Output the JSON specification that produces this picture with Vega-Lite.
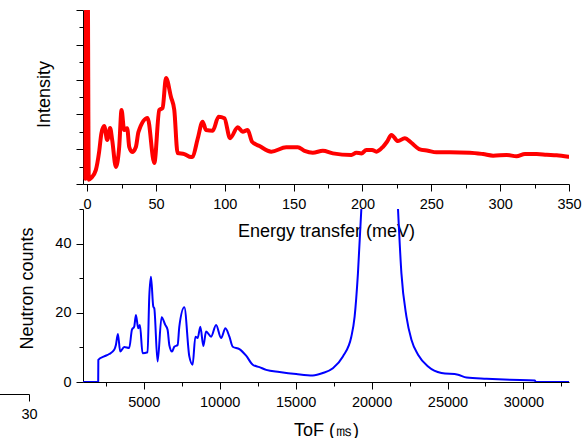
{
  "$schema": "https://vega.github.io/schema/vega-lite/v6.json",
  "width": 486,
  "height": 372,
  "autosize": {"type": "none"},
  "padding": {"left": 83, "top": 10, "right": 16, "bottom": 56},
  "config": {
    "view": {"stroke": null},
    "axis": {
      "grid": false,
      "labelFont": "Liberation Sans",
      "titleFont": "Liberation Sans",
      "labelFontSize": 14.5,
      "titleFontSize": 18,
      "titleFontWeight": "normal",
      "labelColor": "#000000",
      "titleColor": "#000000",
      "domainColor": "#000000",
      "tickColor": "#000000",
      "domainWidth": 1,
      "tickWidth": 1,
      "labelFlush": false,
      "labelOverlap": false
    }
  },
  "datasets": {
    "red": [
      {"E": -1.2, "I": 0.3}, {"E": -0.6, "I": 12}, {"E": 0.4, "I": 12}, {"E": 1.2, "I": 0.25},
      {"E": 3, "I": 0.35}, {"E": 6.3, "I": 0.8}, {"E": 8.7, "I": 1.84}, {"E": 10.4, "I": 2.93},
      {"E": 12.4, "I": 3.33}, {"E": 14.6, "I": 2.53}, {"E": 16.7, "I": 3.22}, {"E": 18.2, "I": 2.53},
      {"E": 20.9, "I": 0.98}, {"E": 23.3, "I": 2.13}, {"E": 25, "I": 4.25}, {"E": 26.9, "I": 3.1},
      {"E": 29.1, "I": 3.2}, {"E": 30.6, "I": 2.13}, {"E": 32.7, "I": 1.84}, {"E": 35.4, "I": 2.13},
      {"E": 37.3, "I": 2.99}, {"E": 43.9, "I": 3.79}, {"E": 48.8, "I": 1.21}, {"E": 52.4, "I": 4.25},
      {"E": 54.8, "I": 4.37}, {"E": 57.3, "I": 6.09}, {"E": 60.9, "I": 5.0}, {"E": 63.3, "I": 4.25},
      {"E": 65.7, "I": 1.78}, {"E": 70.6, "I": 1.72}, {"E": 75.5, "I": 1.55}, {"E": 76.6, "I": 1.57},
      {"E": 80.3, "I": 2.6}, {"E": 83.9, "I": 3.58}, {"E": 86.4, "I": 3.1}, {"E": 91.2, "I": 3.06},
      {"E": 95.5, "I": 3.87}, {"E": 99.7, "I": 3.78}, {"E": 103.8, "I": 2.63}, {"E": 109.4, "I": 3.26},
      {"E": 113, "I": 3.01}, {"E": 116.6, "I": 3.1}, {"E": 119.8, "I": 2.43}, {"E": 125.2, "I": 2.18},
      {"E": 133.7, "I": 1.86}, {"E": 144.6, "I": 2.11}, {"E": 153, "I": 2.11}, {"E": 157.9, "I": 1.91},
      {"E": 163.9, "I": 1.8}, {"E": 171.2, "I": 1.91}, {"E": 178.5, "I": 1.76}, {"E": 191.9, "I": 1.67},
      {"E": 195.5, "I": 1.8}, {"E": 199.2, "I": 1.76}, {"E": 202.8, "I": 1.95}, {"E": 207, "I": 1.95},
      {"E": 210.1, "I": 1.86}, {"E": 214.9, "I": 2.14}, {"E": 217.8, "I": 2.43}, {"E": 221, "I": 2.82},
      {"E": 225.8, "I": 2.47}, {"E": 230.7, "I": 2.63}, {"E": 235.5, "I": 2.37}, {"E": 241.1, "I": 2.01},
      {"E": 247.6, "I": 1.91}, {"E": 253.7, "I": 1.82}, {"E": 263.4, "I": 1.82}, {"E": 278, "I": 1.8},
      {"E": 287.6, "I": 1.72}, {"E": 294.9, "I": 1.63}, {"E": 304.7, "I": 1.67}, {"E": 311.9, "I": 1.59},
      {"E": 318, "I": 1.72}, {"E": 326.5, "I": 1.72}, {"E": 333.8, "I": 1.68}, {"E": 341, "I": 1.65},
      {"E": 349.5, "I": 1.57}
    ],
    "blue": [
      {"t": 1000, "n": 0, "seg": 1}, {"t": 2000, "n": 0, "seg": 1}, {"t": 2010, "n": 6.4, "seg": 1},
      {"t": 2395, "n": 7.4, "seg": 1}, {"t": 2724, "n": 8.1, "seg": 1}, {"t": 3054, "n": 9.3, "seg": 1},
      {"t": 3166, "n": 10.7, "seg": 1}, {"t": 3298, "n": 13.9, "seg": 1}, {"t": 3450, "n": 8.8, "seg": 1},
      {"t": 3714, "n": 10.1, "seg": 1}, {"t": 4044, "n": 9.8, "seg": 1}, {"t": 4222, "n": 15.1, "seg": 1},
      {"t": 4373, "n": 16, "seg": 1}, {"t": 4485, "n": 19.4, "seg": 1}, {"t": 4637, "n": 15.5, "seg": 1},
      {"t": 4749, "n": 16.5, "seg": 1}, {"t": 4921, "n": 8.3, "seg": 1}, {"t": 5251, "n": 8.6, "seg": 1},
      {"t": 5363, "n": 24.6, "seg": 1}, {"t": 5475, "n": 30.4, "seg": 1}, {"t": 5627, "n": 21.8, "seg": 1},
      {"t": 5693, "n": 21.3, "seg": 1}, {"t": 5910, "n": 5.9, "seg": 1}, {"t": 6174, "n": 18.7, "seg": 1},
      {"t": 6418, "n": 16.5, "seg": 1}, {"t": 6570, "n": 15.1, "seg": 1}, {"t": 6682, "n": 10.7, "seg": 1},
      {"t": 6860, "n": 8.8, "seg": 1}, {"t": 7012, "n": 10.2, "seg": 1}, {"t": 7230, "n": 10.7, "seg": 1},
      {"t": 7342, "n": 16, "seg": 1}, {"t": 7671, "n": 21.6, "seg": 1}, {"t": 8001, "n": 7.4, "seg": 1},
      {"t": 8219, "n": 5.0, "seg": 1}, {"t": 8397, "n": 13.1, "seg": 1}, {"t": 8549, "n": 12.7, "seg": 1},
      {"t": 8727, "n": 16, "seg": 1}, {"t": 8925, "n": 10.4, "seg": 1}, {"t": 9103, "n": 14.6, "seg": 1},
      {"t": 9433, "n": 13.1, "seg": 1}, {"t": 9763, "n": 16.5, "seg": 1}, {"t": 10092, "n": 12.7, "seg": 1},
      {"t": 10376, "n": 15.5, "seg": 1}, {"t": 10640, "n": 13.1, "seg": 1}, {"t": 10858, "n": 10.2, "seg": 1},
      {"t": 11299, "n": 9.5, "seg": 1}, {"t": 11741, "n": 7.6, "seg": 1}, {"t": 12177, "n": 5.0, "seg": 1},
      {"t": 12619, "n": 4.3, "seg": 1}, {"t": 13061, "n": 3.5, "seg": 1}, {"t": 13938, "n": 2.9, "seg": 1},
      {"t": 15040, "n": 2.3, "seg": 1}, {"t": 16135, "n": 1.9, "seg": 1}, {"t": 16794, "n": 2.6, "seg": 1},
      {"t": 17454, "n": 4.0, "seg": 1}, {"t": 18113, "n": 7.4, "seg": 1}, {"t": 18667, "n": 13.1, "seg": 1},
      {"t": 18885, "n": 18.9, "seg": 1}, {"t": 19103, "n": 31.4, "seg": 1}, {"t": 19327, "n": 50, "seg": 1},
      {"t": 21741, "n": 50, "seg": 2}, {"t": 21966, "n": 31.4, "seg": 2}, {"t": 22296, "n": 18.9, "seg": 2},
      {"t": 22625, "n": 12.2, "seg": 2}, {"t": 23061, "n": 7.9, "seg": 2}, {"t": 23721, "n": 4.5, "seg": 2},
      {"t": 24604, "n": 2.6, "seg": 2}, {"t": 25699, "n": 2.1, "seg": 2}, {"t": 26253, "n": 1.3, "seg": 2},
      {"t": 27573, "n": 0.95, "seg": 2}, {"t": 29110, "n": 0.66, "seg": 2}, {"t": 30759, "n": 0.46, "seg": 2},
      {"t": 30800, "n": 0, "seg": 2}, {"t": 33000, "n": 0, "seg": 2}
    ],
    "frag": [{"v": 30}]
  },
  "layer": [
    {
      "data": {"name": "red"},
      "mark": {"type": "line", "color": "#ff0000", "strokeWidth": 4, "clip": true, "interpolate": "monotone", "strokeJoin": "round", "strokeCap": "round"},
      "encoding": {
        "x": {
          "field": "E", "type": "quantitative",
          "scale": {"domain": [-3, 350], "nice": false, "zero": false},
          "axis": {
            "orient": "bottom", "offset": -198,
            "values": [0, 25, 50, 75, 100, 125, 150, 175, 200, 225, 250, 275, 300, 325, 350],
            "labelExpr": "datum.value % 50 === 0 ? datum.label : ''",
            "tickSize": {"condition": {"test": "datum.value % 50 === 0", "value": 7}, "value": 4},
            "labelBaseline": "alphabetic", "labelPadding": 17,
            "title": "Energy transfer (meV)", "titleBaseline": "alphabetic", "titleY": 52.5
          }
        },
        "y": {
          "field": "I", "type": "quantitative",
          "scale": {"domain": [0, 10], "range": [174, 0], "nice": false},
          "axis": {
            "orient": "left",
            "values": [0, 1, 2, 3, 4, 5, 6, 7, 8, 9, 10],
            "labels": false,
            "tickSize": {"condition": {"test": "datum.value % 2 === 0", "value": 7}, "value": 4},
            "title": "Intensity", "titleBaseline": "alphabetic", "titleX": -33.5, "titleY": 84
          }
        }
      }
    },
    {
      "data": {"name": "blue"},
      "mark": {"type": "line", "color": "#0000ff", "strokeWidth": 2, "clip": true, "interpolate": "monotone", "strokeJoin": "round"},
      "encoding": {
        "x": {
          "field": "t", "type": "quantitative",
          "scale": {"domain": [1000, 33000], "nice": false, "zero": false},
          "axis": {
            "orient": "bottom",
            "values": [2500, 5000, 7500, 10000, 12500, 15000, 17500, 20000, 22500, 25000, 27500, 30000, 32500],
            "labelExpr": "datum.value % 5000 === 0 ? datum.value : ''",
            "tickSize": {"condition": {"test": "datum.value % 5000 === 0", "value": 7}, "value": 4},
            "labelBaseline": "alphabetic", "labelPadding": 17,
            "title": "ToF (㎳)", "titleBaseline": "alphabetic", "titleY": 53
          }
        },
        "y": {
          "field": "n", "type": "quantitative",
          "scale": {"domain": [0, 50], "range": [372, 199], "nice": false},
          "axis": {
            "orient": "left",
            "values": [0, 10, 20, 30, 40, 50],
            "labelExpr": "datum.value % 20 === 0 ? datum.label : ''",
            "tickSize": {"condition": {"test": "datum.value % 20 === 0", "value": 7}, "value": 4},
            "labelPadding": 5,
            "title": "Neutron counts", "titleBaseline": "alphabetic", "titleX": -50.5, "titleY": 278
          }
        },
        "detail": {"field": "seg", "type": "nominal"}
      }
    },
    {
      "data": {"name": "frag"},
      "mark": {"type": "point", "opacity": 0},
      "encoding": {
        "x": {
          "field": "v", "type": "quantitative",
          "scale": {"domain": [0, 30], "range": [-150, -54], "nice": false, "zero": false},
          "axis": {
            "orient": "bottom", "offset": 12, "values": [30], "tickSize": 7,
            "labelBaseline": "alphabetic", "labelPadding": 17, "title": null
          }
        }
      }
    }
  ],
  "resolve": {"scale": {"x": "independent", "y": "independent"}}
}
